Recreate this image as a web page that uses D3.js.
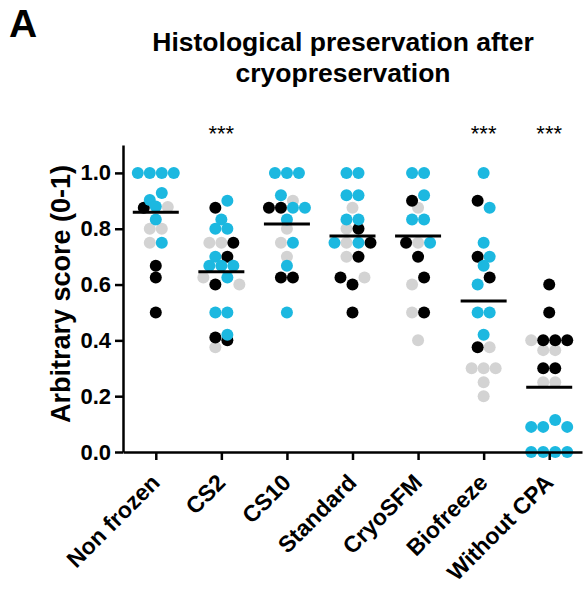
<!DOCTYPE html>
<html>
<head>
<meta charset="utf-8">
<script src="https://cdn.jsdelivr.net/npm/d3@7"></script>
<style>
  body { margin: 0; background: #fff; }
  svg { display: block; font-family: "Liberation Sans", Arial, sans-serif; }
</style>
</head>
<body>
<div id="chart"></div>
<script>
// Groups on the x axis
var categories = ["Non frozen", "CS2", "CS10", "Standard", "CryoSFM", "Biofreeze", "Without CPA"];

// Scores per group, read top to bottom / left to right. b = black, g = grey, c = cyan
var nonFrozen = [
  [1, "c"], [1, "c"], [1, "c"], [1, "c"],
  [0.903, "c"], [0.928, "c"],
  [0.875, "b"], [0.88, "c"], [0.878, "g"],
  [0.833, "c"],
  [0.8, "g"], [0.8, "g"],
  [0.75, "g"], [0.75, "c"],
  [0.667, "b"], [0.625, "b"], [0.5, "b"]
];
var cs2 = [
  [0.875, "b"], [0.9, "c"],
  [0.833, "c"],
  [0.8, "c"], [0.8, "c"],
  [0.75, "g"], [0.75, "g"], [0.75, "b"],
  [0.7, "c"], [0.7, "b"],
  [0.667, "c"], [0.667, "c"], [0.667, "c"],
  [0.625, "g"], [0.6, "b"], [0.625, "c"], [0.6, "g"],
  [0.5, "c"], [0.5, "c"],
  [0.41, "b"], [0.42, "c"],
  [0.375, "g"], [0.4, "b"]
];
var cs10 = [
  [1, "c"], [1, "c"], [1, "c"],
  [0.92, "c"], [0.9, "g"],
  [0.875, "b"], [0.875, "b"], [0.875, "c"], [0.875, "c"],
  [0.833, "c"],
  [0.8, "g"],
  [0.75, "g"], [0.75, "c"],
  [0.7, "g"], [0.667, "c"],
  [0.625, "b"], [0.625, "b"],
  [0.5, "c"]
];
var standard = [
  [1, "c"], [1, "c"],
  [0.92, "c"], [0.92, "c"],
  [0.875, "g"],
  [0.833, "c"], [0.833, "c"],
  [0.8, "g"], [0.8, "b"],
  [0.75, "c"], [0.75, "g"], [0.75, "c"], [0.75, "b"],
  [0.7, "g"], [0.7, "b"],
  [0.625, "b"], [0.6, "b"], [0.625, "g"],
  [0.5, "b"]
];
var cryoSFM = [
  [1, "c"], [1, "c"],
  [0.9, "b"], [0.92, "c"], [0.875, "g"],
  [0.833, "c"], [0.833, "c"],
  [0.75, "b"], [0.75, "g"], [0.75, "c"],
  [0.7, "b"],
  [0.6, "g"], [0.625, "b"],
  [0.5, "g"], [0.5, "b"],
  [0.4, "g"]
];
var biofreeze = [
  [1, "c"],
  [0.9, "b"], [0.875, "c"],
  [0.75, "c"],
  [0.7, "b"], [0.7, "c"],
  [0.667, "c"],
  [0.6, "c"], [0.625, "b"],
  [0.5, "c"], [0.5, "c"],
  [0.42, "c"],
  [0.375, "b"], [0.375, "g"],
  [0.3, "g"], [0.3, "g"], [0.3, "g"],
  [0.25, "g"], [0.2, "g"]
];
var withoutCPA = [
  [0.6, "b"], [0.5, "b"],
  [0.4, "g"], [0.4, "b"], [0.4, "b"], [0.4, "b"],
  [0.365, "g"], [0.365, "g"],
  [0.3, "b"], [0.3, "b"],
  [0.25, "g"], [0.25, "g"],
  [0.09, "c"], [0.09, "c"], [0.115, "c"], [0.09, "c"],
  [0, "c"], [0, "c"], [0, "c"], [0, "c"]
];
var groupData = [nonFrozen, cs2, cs10, standard, cryoSFM, biofreeze, withoutCPA];

// Mean bars as drawn in the figure
var groupMeans = [0.859, 0.646, 0.817, 0.774, 0.774, 0.541, 0.232];
var significance = ["", "***", "", "", "", "***", "***"];
var yTicks = [0, 0.2, 0.4, 0.6, 0.8, 1.0];

var width = 584, height = 592;
var margin = { top: 145, right: 2, bottom: 140, left: 123 };

var color = { b: "#000000", g: "#d3d3d3", c: "#1cb8e0" };
var drawOrder = { g: 0, b: 1, c: 2 };
var r = 6, step = 12, binTol = 0.03;

var svg = d3.select("#chart").append("svg")
  .attr("width", width)
  .attr("height", height);

var x = d3.scalePoint()
  .domain(categories)
  .range([margin.left, width - margin.right])
  .padding(0.5);

var y = d3.scaleLinear()
  .domain([0, 1.1])
  .range([height - margin.bottom, margin.top]);

// Panel letter and title
svg.append("text")
  .attr("x", 9).attr("y", 37)
  .style("font-size", "39px").style("font-weight", "bold")
  .text("A");

svg.append("text")
  .attr("x", 343).attr("y", 51)
  .attr("text-anchor", "middle")
  .style("font-size", "26.5px").style("font-weight", "bold")
  .text("Histological preservation after");
svg.append("text")
  .attr("x", 343).attr("y", 82)
  .attr("text-anchor", "middle")
  .style("font-size", "26.5px").style("font-weight", "bold")
  .text("cryopreservation");

// Simple row-centred scatter: near-equal values share a row
function layout(points, cx) {
  var bins = [], cur = null;
  points.forEach(function (p) {
    if (cur && Math.max(cur.max, p[0]) - Math.min(cur.min, p[0]) <= binTol + 1e-9) {
      cur.items.push(p);
      cur.max = Math.max(cur.max, p[0]);
      cur.min = Math.min(cur.min, p[0]);
    } else {
      cur = { max: p[0], min: p[0], items: [p] };
      bins.push(cur);
    }
  });
  var out = [];
  bins.forEach(function (b) {
    var n = b.items.length;
    b.items.forEach(function (p, i) {
      out.push({ v: p[0], s: p[1], x: cx + (i - (n - 1) / 2) * step });
    });
  });
  return out;
}

var dots = [];
categories.forEach(function (cat, i) {
  dots = dots.concat(layout(groupData[i], x(cat)));
});
dots.sort(function (a, b) { return drawOrder[a.s] - drawOrder[b.s]; });

svg.append("g")
  .selectAll("circle")
  .data(dots)
  .join("circle")
  .attr("cx", function (d) { return d.x; })
  .attr("cy", function (d) { return y(d.v); })
  .attr("r", r)
  .attr("fill", function (d) { return color[d.s]; });

// Mean lines
svg.append("g")
  .selectAll("line")
  .data(categories)
  .join("line")
  .attr("x1", function (d) { return x(d) - 23; })
  .attr("x2", function (d) { return x(d) + 23; })
  .attr("y1", function (d, i) { return y(groupMeans[i]); })
  .attr("y2", function (d, i) { return y(groupMeans[i]); })
  .attr("stroke", "#000")
  .attr("stroke-width", 3);

// Significance stars
svg.append("g")
  .selectAll("text")
  .data(categories)
  .join("text")
  .attr("x", function (d) { return x(d); })
  .attr("y", 141)
  .attr("text-anchor", "middle")
  .style("font-size", "22px")
  .text(function (d, i) { return significance[i]; });

// Axes
var yAxis = svg.append("g")
  .attr("transform", "translate(" + margin.left + ",0)")
  .call(d3.axisLeft(y).tickValues(yTicks).tickFormat(d3.format(".1f")).tickSize(8).tickSizeOuter(0).tickPadding(4));

var xAxis = svg.append("g")
  .attr("transform", "translate(0," + (height - margin.bottom) + ")")
  .call(d3.axisBottom(x).tickSize(8).tickSizeOuter(0));

[yAxis, xAxis].forEach(function (ax) {
  ax.select(".domain").attr("stroke-width", 2.5);
  ax.selectAll(".tick line").attr("stroke-width", 2.5);
  ax.selectAll("text")
    .attr("fill", "#000")
    .style("font-family", "'Liberation Sans', Arial, sans-serif")
    .style("font-size", "22px")
    .style("font-weight", "bold");
});

xAxis.selectAll(".tick text")
  .style("font-size", "23px")
  .attr("x", 0).attr("y", 0).attr("dy", 0)
  .attr("transform", "translate(5,32) rotate(-45)")
  .style("text-anchor", "end");

svg.append("text")
  .attr("transform", "translate(70,294) rotate(-90)")
  .attr("text-anchor", "middle")
  .style("font-size", "27px").style("font-weight", "bold")
  .text("Arbitrary score (0-1)");
</script>
</body>
</html>
